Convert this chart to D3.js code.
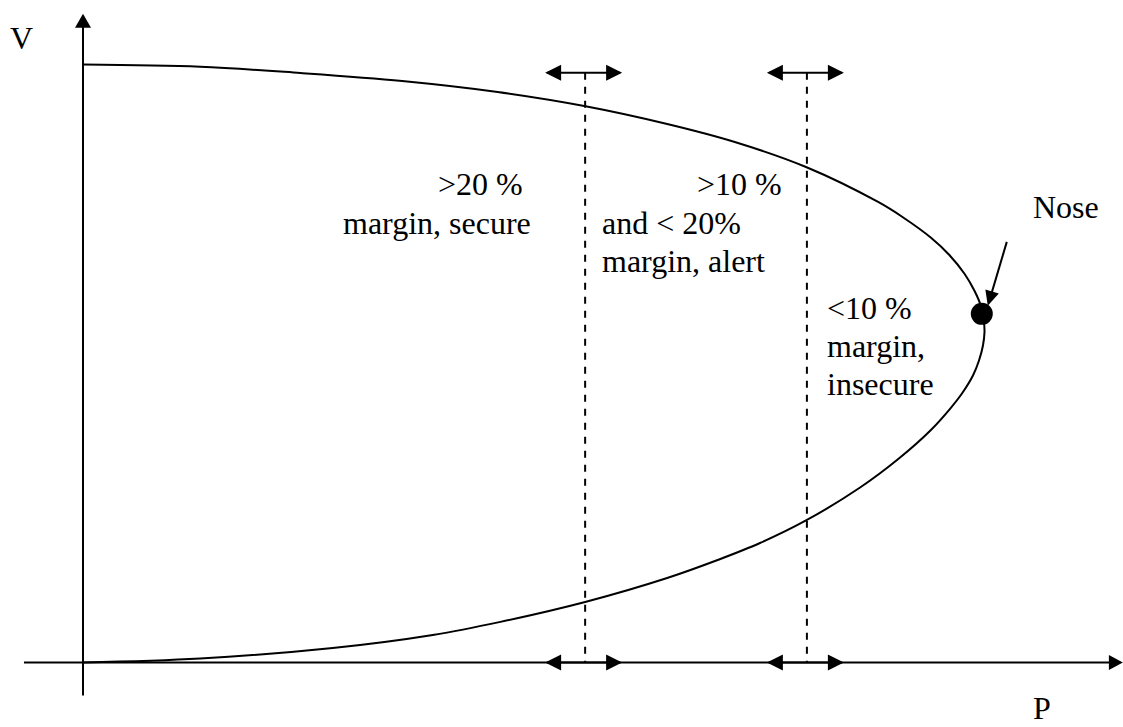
<!DOCTYPE html>
<html>
<head>
<meta charset="utf-8">
<script src="https://cdn.jsdelivr.net/npm/d3@7"></script>
<style>
  html, body { margin: 0; padding: 0; background: #fff; }
  svg { display: block; }
  text { font-family: "Liberation Serif", "Tinos", "Times New Roman", "DejaVu Serif", serif; font-size: 32px; fill: #000; }
</style>
</head>
<body>
<svg id="chart" width="1123" height="727"></svg>
<script>
// ---- data (normalised P and V) ----
// PV "nose" curve, walked from the no-load end (top) round the nose to the origin
const curveP = [0.000, 0.130, 0.241, 0.354, 0.460, 0.556, 0.648, 0.723, 0.802, 0.882, 0.909, 0.941, 0.961, 0.978, 0.989, 0.996, 0.9994, 1.000,
                0.9983, 0.9939, 0.9872, 0.975, 0.962, 0.940, 0.905, 0.862, 0.802, 0.751, 0.704, 0.648, 0.557, 0.463, 0.388, 0.277, 0.130, 0.000];
const curveV = [1.000, 0.9963, 0.9858, 0.9724, 0.954, 0.9306, 0.9005, 0.8704, 0.8286, 0.7701, 0.745, 0.7099, 0.6815, 0.6497, 0.6212, 0.5962, 0.5694, 0.5527,
                0.5301, 0.505, 0.4799, 0.4498, 0.4247, 0.388, 0.3411, 0.2926, 0.2375, 0.1998, 0.1714, 0.1413, 0.1012, 0.0679, 0.046, 0.0242, 0.0067, 0.000];
// loadability-margin boundaries (P)
const boundaryP = [0.557, 0.803];
// nose point
const noseP = [0.997];
const noseV = [0.583];
// texts
const axisLabels = ["V", "P"];
const zoneLabels = [
  [">20 %", "margin, secure"],
  [">10 %", "and < 20%", "margin, alert"],
  ["<10 %", "margin,", "insecure"]
];
const noseLabel = "Nose";

// ---- layout ----
const svg = d3.select("#chart");
const x = d3.scaleLinear().domain([0, 1]).range([83, 984.5]);
const y = d3.scaleLinear().domain([0, 1]).range([662.5, 64.5]);

const ink = "#000";
function arrowHead(g, tipX, tipY, angle, len, hw) {
  const c = Math.cos(angle), s = Math.sin(angle);
  const bx = tipX - c * len, by = tipY - s * len;
  const pts = [[tipX, tipY], [bx - s * hw, by + c * hw], [bx + s * hw, by - c * hw]];
  g.append("polygon").attr("points", pts.map(p => p.join(",")).join(" ")).attr("fill", ink);
}

const axes = svg.append("g");
// y axis
axes.append("line")
  .attr("x1", x(0)).attr("x2", x(0))
  .attr("y1", y(-0.055)).attr("y2", y(1.08))
  .attr("stroke", ink).attr("stroke-width", 2);
arrowHead(axes, x(0), y(1.085), -Math.PI / 2, 14, 8);
// x axis
axes.append("line")
  .attr("x1", x(-0.0655)).attr("x2", x(1.14))
  .attr("y1", y(0)).attr("y2", y(0))
  .attr("stroke", ink).attr("stroke-width", 2);
arrowHead(axes, x(1.1535), y(0), 0, 14, 7.5);

// boundaries: dashed verticals with double arrows on top and on the P axis
const bnd = svg.append("g");
const arrowV = 0.986;
boundaryP.forEach(p => {
  const bx = x(p);
  bnd.append("line")
    .attr("x1", bx).attr("x2", bx)
    .attr("y1", y(arrowV)).attr("y2", y(0))
    .attr("stroke", ink).attr("stroke-width", 2)
    .attr("stroke-dasharray", "7,7");
  [y(arrowV), y(0)].forEach(ay => {
    bnd.append("line")
      .attr("x1", bx - 38).attr("x2", bx + 35)
      .attr("y1", ay).attr("y2", ay)
      .attr("stroke", ink).attr("stroke-width", 2);
    arrowHead(bnd, bx - 40, ay, Math.PI, 16, 8);
    arrowHead(bnd, bx + 37, ay, 0, 16, 8);
  });
});

// PV curve
const pts = curveP.map((p, i) => [p, curveV[i]]);
svg.append("path")
  .datum(pts)
  .attr("fill", "none")
  .attr("stroke", ink)
  .attr("stroke-width", 2)
  .attr("d", d3.line().x(d => x(d[0])).y(d => y(d[1])).curve(d3.curveCatmullRom.alpha(0.5)));

// nose point
svg.append("g").selectAll("circle")
  .data(noseP.map((p, i) => [p, noseV[i]]))
  .join("circle")
  .attr("cx", d => x(d[0])).attr("cy", d => y(d[1]))
  .attr("r", 11).attr("fill", ink);

// nose pointer arrow
const nx = x(noseP[0]), ny = y(noseV[0]);
const tip = [nx + 6, ny - 8], tail = [nx + 25, ny - 72];
svg.append("line")
  .attr("x1", tail[0]).attr("y1", tail[1])
  .attr("x2", tip[0] + 3).attr("y2", tip[1] - 10)
  .attr("stroke", ink).attr("stroke-width", 2);
arrowHead(svg, tip[0], tip[1], Math.atan2(tip[1] - tail[1], tip[0] - tail[0]), 15, 7);

// texts
const txt = svg.append("g");
txt.append("text").attr("x", 10).attr("y", 49).text(axisLabels[0]);
txt.append("text").attr("x", 1033).attr("y", 719).text(axisLabels[1]);
txt.append("text").attr("x", 1033).attr("y", 218).text(noseLabel);

const zonePos = [
  [[438, 195], [343, 234]],
  [[697, 195], [602, 234], [602, 272]],
  [[827, 319], [827, 357], [827, 395]]
];
zoneLabels.forEach((lines, zi) => {
  lines.forEach((t, li) => {
    txt.append("text")
      .attr("x", zonePos[zi][li][0])
      .attr("y", zonePos[zi][li][1])
      .style("white-space", "pre")
      .text(t);
  });
});
</script>
</body>
</html>
